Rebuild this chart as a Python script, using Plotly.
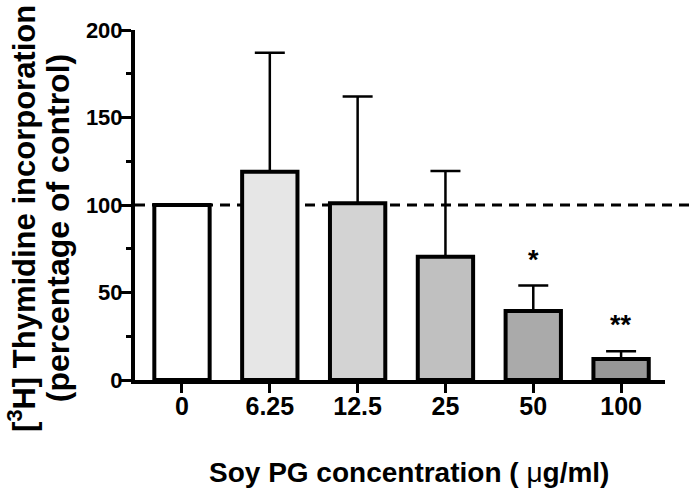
import plotly.graph_objects as go

categories = ["0", "6.25", "12.5", "25", "50", "100"]
means = [100, 119, 101, 70.5, 39.5, 12]
sem_plus = [0, 68, 61, 49, 14.5, 4.5]
bar_colors = ["#ffffff", "#e6e6e6", "#d3d3d3", "#c0c0c0", "#aaaaaa", "#979797"]
sig_labels = ["", "", "", "", "*", "**"]
control_level = 100
y_ticks = [0, 50, 100, 150, 200]

FONT = "Liberation Sans, Arial, Helvetica, sans-serif"
idx = list(range(len(categories)))

fig = go.Figure()
fig.add_trace(go.Bar(
    x=idx, y=means, width=0.63,
    marker=dict(color=bar_colors, line=dict(color="black", width=4)),
    error_y=dict(type="data", symmetric=False, array=sem_plus,
                 arrayminus=[0] * len(means), color="black",
                 thickness=2.5, width=15),
    showlegend=False,
))

# dashed control line
fig.add_shape(type="line", xref="paper", yref="y", x0=0, x1=1.057,
              y0=control_level, y1=control_level, layer="below",
              line=dict(color="black", width=3, dash="10px,7px"))

# significance marks
for i, m, e, s in zip(idx, means, sem_plus, sig_labels):
    if s:
        fig.add_annotation(x=i, y=m + e + (14.5 if len(s) == 1 else 15),
                           xref="x", yref="y",
                           text=s, showarrow=False, xanchor="center",
                           yanchor="middle",
                           font=dict(family=FONT, size=27, color="black",
                                     weight="bold"))

# y-axis title (two lines)
fig.add_annotation(xref="paper", yref="paper", x=-0.212, y=0.462,
                   text="[<sup>3</sup>H] Thymidine incorporation",
                   textangle=-90, showarrow=False, xanchor="center",
                   yanchor="middle",
                   font=dict(family=FONT, size=31, color="black", weight="bold"))
fig.add_annotation(xref="paper", yref="paper", x=-0.145, y=0.434,
                   text="(percentage of control)",
                   textangle=-90, showarrow=False, xanchor="center",
                   yanchor="middle",
                   font=dict(family=FONT, size=32, color="black", weight="bold"))
# x-axis title
fig.add_annotation(xref="paper", yref="paper", x=0.517, y=-0.263,
                   text='Soy PG concentration ( <span style="font-weight:normal">μ</span>g/ml)',
                   showarrow=False, xanchor="center", yanchor="middle",
                   font=dict(family=FONT, size=28, color="black", weight="bold"))

fig.update_layout(
    width=700, height=489,
    margin=dict(l=135, r=35, t=30, b=109),
    paper_bgcolor="white", plot_bgcolor="white",
)
fig.update_xaxes(
    range=[-0.535, 5.5], tickvals=idx, ticktext=categories,
    showline=True, linecolor="black", linewidth=4,
    ticks="outside", ticklen=9, tickwidth=3, tickcolor="black",
    ticklabelstandoff=-8,
    showgrid=False, zeroline=False,
    tickfont=dict(family=FONT, size=25, color="black", weight="bold"),
)
fig.update_yaxes(
    range=[0, 200], tickvals=y_ticks,
    showline=True, linecolor="black", linewidth=4,
    ticks="outside", ticklen=10, tickwidth=3, tickcolor="black",
    ticklabelstandoff=-6,
    minor=dict(ticks="outside", ticklen=5, tickwidth=3, tickcolor="black",
               dtick=25, showgrid=False),
    showgrid=False, zeroline=False,
    tickfont=dict(family=FONT, size=22, color="black", weight="bold"),
)

fig.write_html("out.html", config={"displayModeBar": False},
               post_script="document.body.style.margin='0';")
